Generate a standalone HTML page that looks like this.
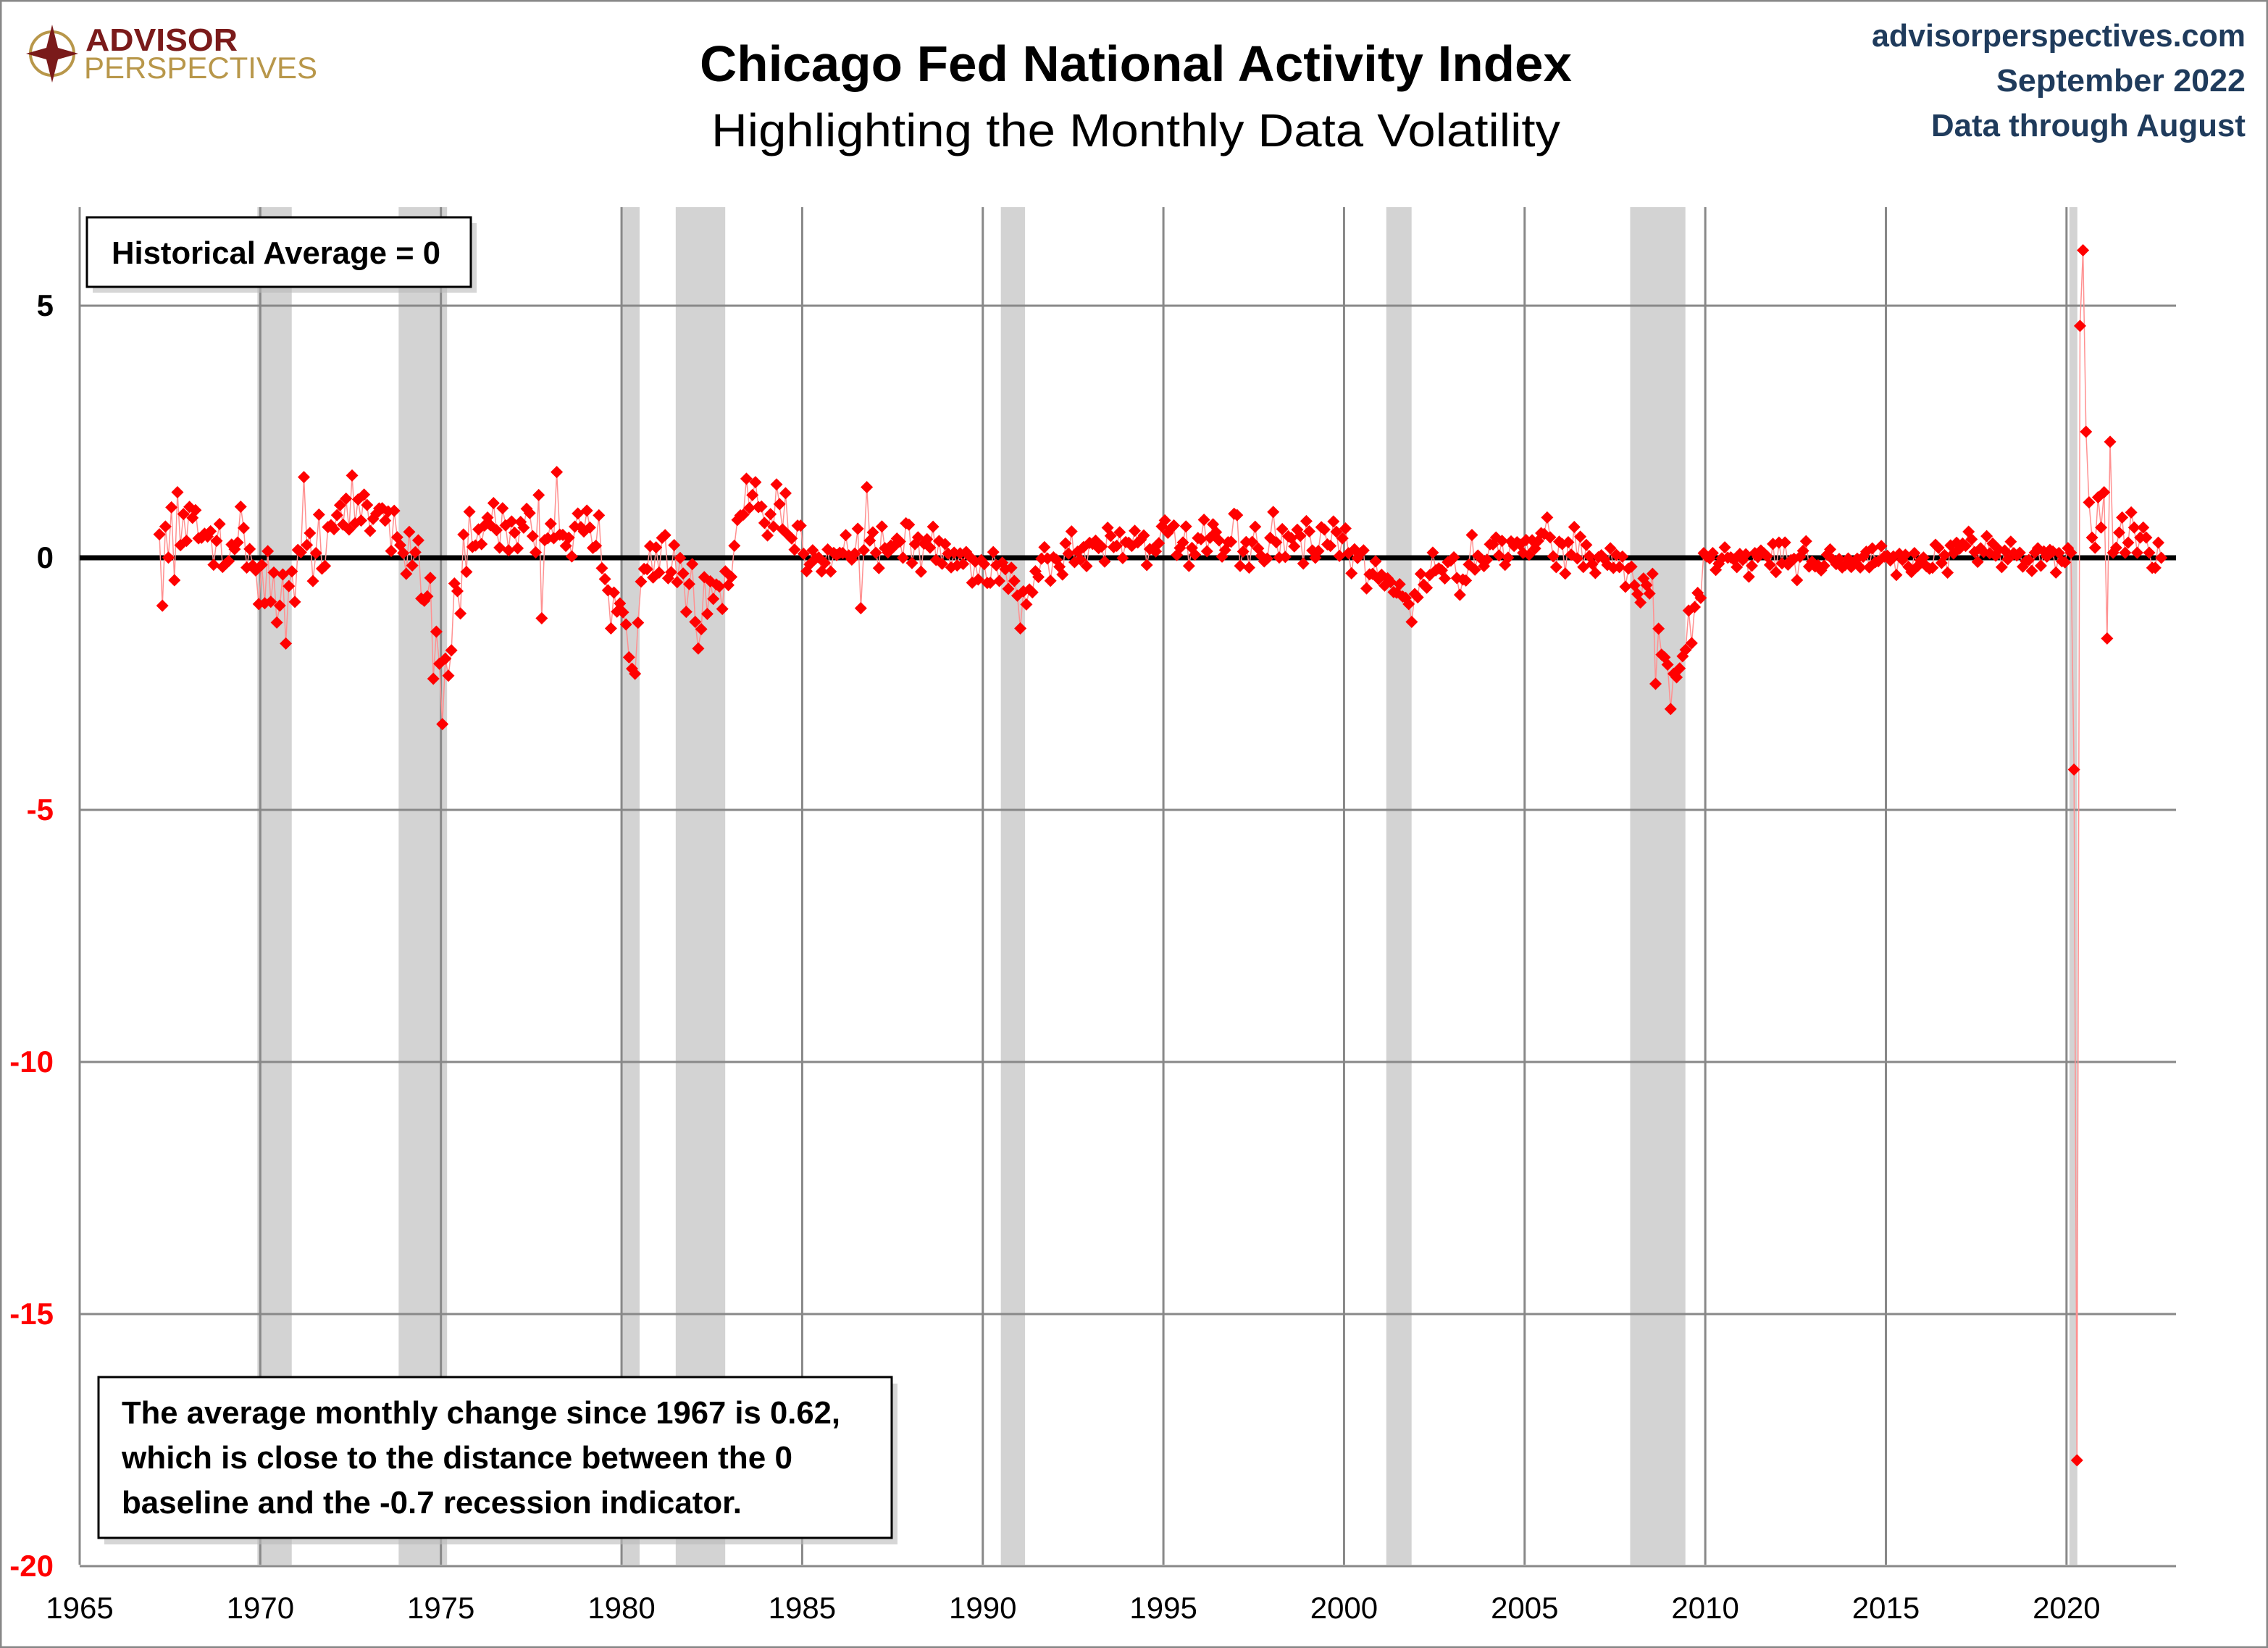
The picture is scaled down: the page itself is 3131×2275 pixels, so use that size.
<!DOCTYPE html>
<html><head><meta charset="utf-8"><style>
html,body{margin:0;padding:0;background:#fff}
svg{display:block}
</style></head><body>
<svg id="c" width="3131" height="2275" viewBox="0 0 3131 2275" xmlns="http://www.w3.org/2000/svg" font-family="'Liberation Sans', sans-serif">
<rect x="1" y="1" width="3129" height="2273" fill="#fff" stroke="#888" stroke-width="3"/>
<g id="rec" fill="#d3d3d3"></g>
<g id="grid" stroke="#888" stroke-width="3"></g>
<line x1="110" y1="770" x2="3004" y2="770" stroke="#000" stroke-width="7"/>
<polyline id="ln" fill="none" stroke="#ff9090" stroke-width="1.5"/>
<g id="pts" fill="#ff0000"></g>
<g id="lab" font-size="42"></g>
<circle cx="72" cy="74" r="30" fill="none" stroke="#b8974a" stroke-width="4"/>
<polygon points="72,34 80,66 108,74 80,82 72,114 64,82 36,74 64,66" fill="#7a1a1a"/>
<text x="118" y="70" font-size="44" font-weight="bold" fill="#7a1a1a" textLength="210" lengthAdjust="spacingAndGlyphs">ADVISOR</text>
<text x="116" y="108" font-size="42" fill="#b8974a" textLength="322" lengthAdjust="spacingAndGlyphs">PERSPECTIVES</text>
<text x="1568" y="112" font-size="70" font-weight="bold" text-anchor="middle" textLength="1204" lengthAdjust="spacingAndGlyphs">Chicago Fed National Activity Index</text>
<text x="1568" y="202" font-size="64" text-anchor="middle" textLength="1172" lengthAdjust="spacingAndGlyphs">Highlighting the Monthly Data Volatility</text>
<g font-size="44" font-weight="bold" fill="#1f3b5c" text-anchor="end">
<text x="3100" y="64" textLength="516" lengthAdjust="spacingAndGlyphs">advisorperspectives.com</text>
<text x="3100" y="126" textLength="344" lengthAdjust="spacingAndGlyphs">September 2022</text>
<text x="3100" y="188" textLength="434" lengthAdjust="spacingAndGlyphs">Data through August</text>
</g>
<rect x="128" y="308" width="530" height="96" fill="#bbb" opacity="0.6"/>
<rect x="120" y="300" width="530" height="96" fill="#fff" stroke="#000" stroke-width="3"/>
<text x="154" y="364" font-size="44" font-weight="bold" textLength="454" lengthAdjust="spacingAndGlyphs">Historical Average = 0</text>
<rect x="144" y="1910" width="1095" height="222" fill="#bbb" opacity="0.6"/>
<rect x="136" y="1901" width="1095" height="222" fill="#fff" stroke="#000" stroke-width="3"/>
<g font-size="44" font-weight="bold">
<text x="168" y="1965" textLength="992" lengthAdjust="spacingAndGlyphs">The average monthly change since 1967 is 0.62,</text>
<text x="168" y="2027" textLength="926" lengthAdjust="spacingAndGlyphs">which is close to the distance between the 0</text>
<text x="168" y="2089" textLength="856" lengthAdjust="spacingAndGlyphs">baseline and the -0.7 recession indicator.</text>
</g>
</svg>
<script>
var NS="http://www.w3.org/2000/svg";
function X(y){return 110+(y-1965)*49.87;}
function Y(v){return 770-v*69.6;}
function el(p,t,a,txt){var e=document.createElementNS(NS,t);for(var k in a)e.setAttribute(k,a[k]);if(txt!=null)e.textContent=txt;document.getElementById(p).appendChild(e);return e;}
var rec=[[1969.92,1970.87],[1973.83,1975.17],[1980.0,1980.5],[1981.5,1982.87],[1990.5,1991.17],[2001.17,2001.87],[2007.92,2009.45],[2020.08,2020.3]];
rec.forEach(function(r){el("rec","rect",{x:X(r[0]),y:286,width:X(r[1])-X(r[0]),height:1874});});
for(var y=1965;y<=2020;y+=5){el("grid","line",{x1:X(y),y1:286,x2:X(y),y2:2160});}
[5,-5,-10,-15,-20].forEach(function(v){el("grid","line",{x1:110,y1:Y(v),x2:3004,y2:Y(v)});});
var yl=[[5,"5","#000"],[0,"0","#000"],[-5,"-5","#f00"],[-10,"-10","#f00"],[-15,"-15","#f00"],[-20,"-20","#f00"]];
yl.forEach(function(a){el("lab","text",{x:74,y:Y(a[0])+14,"text-anchor":"end","font-weight":"bold",fill:a[2]},a[1]);});
for(var y=1965;y<=2020;y+=5){el("lab","text",{x:X(y),y:2234,"text-anchor":"middle"},String(y));}
var kp=[[1967.2,0],[1968,0.5],[1969.5,0.3],[1970.3,-0.7],[1970.9,-0.6],[1971.5,0.4],[1972.5,0.9],[1973.5,0.8],[1974.2,0],[1974.7,-0.5],[1974.95,-2.3],[1975.1,-2.5],[1975.4,-0.5],[1976,0.5],[1978,0.7],[1979.5,0.1],[1980.3,-1.5],[1980.7,-0.3],[1981.2,0.3],[1981.6,-0.4],[1982.3,-1.1],[1982.9,-0.6],[1983.3,0.9],[1984.3,0.8],[1985,0.1],[1987.5,0.3],[1989,0.1],[1989.8,-0.3],[1990.5,0],[1991,-0.9],[1991.5,-0.2],[1992,0],[1994,0.4],[1996,0.2],[1998,0.3],[2000,0.2],[2000.8,-0.4],[2001.8,-0.8],[2002.5,-0.2],[2003.3,-0.3],[2004,0.3],[2006,0.2],[2007,0],[2008,-0.4],[2008.5,-0.8],[2008.9,-2.2],[2009.2,-2.5],[2009.6,-1.2],[2010,0],[2012,0],[2016,-0.1],[2018,0.2],[2019,0],[2020,0]];
function base(t){for(var i=0;i<kp.length-1;i++){if(t>=kp[i][0]&&t<=kp[i+1][0]){var f=(t-kp[i][0])/(kp[i+1][0]-kp[i][0]);return kp[i][1]+f*(kp[i+1][1]-kp[i][1]);}}return 0.2;}
var s=12345;function rnd(){s=(s*16807)%2147483647;return s/2147483647;}
function gauss(){return (rnd()+rnd()+rnd()-1.5)*1.4;}
function sd(t){if(t<1985)return 0.5;if(t<2000)return 0.35;if(t<2010)return 0.33;return 0.25;}
var spec={"1967.6":1.0,"1967.8":1.3,"1970.8":-1.7,"1971.2":1.6,"1974.9":-2.4,"1975.0":-3.3,"1975.1":-2.0,"1978.2":1.7,"1977.9":-1.2,"1979.8":-1.4,"1980.4":-2.3,"1980.3":-2.2,"1982.1":-1.8,"1983.8":1.5,"1986.9":1.4,"1986.7":-1.0,"1991.0":-1.4,"2008.7":-2.5,"2009.0":-3.0,"2009.1":-2.3,"2005.7":0.8,
"2020.1":0.1,"2020.2":-4.2,"2020.3":-17.9,"2020.4":4.6,"2020.5":6.1,"2020.6":2.5,"2020.7":1.1,"2020.8":0.4,"2020.9":0.2,"2020.10":1.2,"2020.11":0.6,"2021.0":1.3,"2021.1":-1.6,"2021.2":2.3,"2021.3":0.1,"2021.4":0.2,"2021.5":0.5,"2021.6":0.8,"2021.7":0.1,"2021.8":0.3,"2021.9":0.9,"2021.10":0.6,"2021.11":0.1,"2022.0":0.4,"2022.1":0.6,"2022.2":0.4,"2022.3":0.1,"2022.4":-0.2,"2022.5":-0.2,"2022.6":0.3,"2022.7":0.0};
var pts=[];
for(var yr=1967;yr<=2022;yr++){for(var m=0;m<12;m++){if(yr==1967&&m<2)continue;if(yr==2022&&m>7)continue;
var t=yr+m/12;var key=yr+"."+m;var v;
if(yr>=2020){v=spec[key]!=null?spec[key]:base(t)+gauss()*0.2;}
else{v=base(t)+gauss()*sd(t);if(spec[key]!=null)v=spec[key];}
pts.push([X(t+0.04),Y(v)]);}}
document.getElementById("ln").setAttribute("points",pts.map(function(p){return p[0].toFixed(1)+","+p[1].toFixed(1);}).join(" "));
pts.forEach(function(p){var x=p[0],y=p[1];el("pts","polygon",{points:(x)+","+(y-8.5)+" "+(x+8.5)+","+y+" "+x+","+(y+8.5)+" "+(x-8.5)+","+y});});
</script>
</body></html>
